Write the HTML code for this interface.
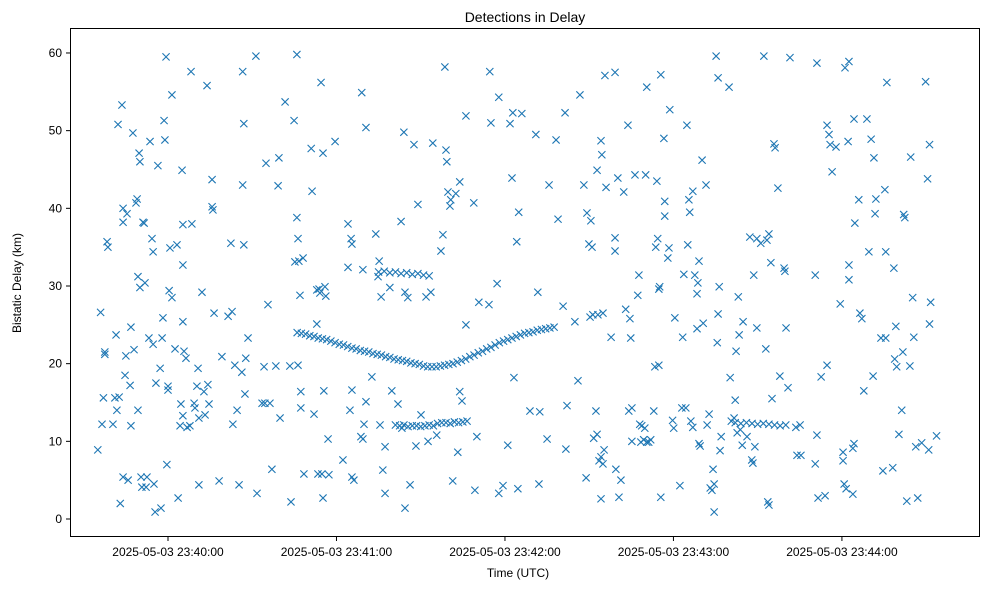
<!DOCTYPE html>
<html><head><meta charset="utf-8"><style>
body{margin:0;background:#fff;}
svg{font-family:"Liberation Sans","DejaVu Sans",sans-serif;}
</style></head><body>
<svg id="chart" width="989" height="590" viewBox="0 0 989 590">
<rect x="0" y="0" width="989" height="590" fill="#fff"/>
<text x="525" y="22" text-anchor="middle" font-size="14">Detections in Delay</text>
<text x="518" y="577" text-anchor="middle" font-size="12">Time (UTC)</text>
<text transform="translate(21,283) rotate(-90)" text-anchor="middle" font-size="12">Bistatic Delay (km)</text>
<g id="marks"></g>
<g id="axes"></g>
<rect x="70.5" y="28.5" width="909" height="508" fill="none" stroke="#000" stroke-width="1"/>
</svg>
<script>
const xTickValues=[0,60,120,180,240];
const xTickLabels=["2025-05-03 23:40:00","2025-05-03 23:41:00","2025-05-03 23:42:00","2025-05-03 23:43:00","2025-05-03 23:44:00"];
const yTickValues=[0,10,20,30,40,50,60];
const yTickLabels=["0","10","20","30","40","50","60"];
const noiseDetections=[[-25,8.9],[-24,26.6],[-23.5,12.2],[-23,15.6],[-22.5,21.5],[-22.5,21.2],[-21.7,35.7],[-21.4,35],[-19.6,12.2],[-18.9,15.6],[-18.5,23.7],[-18.2,14],[-17.8,50.8],[-17.4,15.7],[-17,2],[-16.4,53.3],[-16,38.2],[-16,40],[-16,5.4],[-15.3,18.5],[-15,21],[-14.6,39.3],[-14.2,5],[-13.5,17.2],[-13.2,24.7],[-13.2,12],[-12.5,49.7],[-12.1,21.8],[-11.4,40.7],[-11,41.2],[-10.7,31.2],[-10.7,14],[-10.3,47.1],[-10,46],[-10,29.8],[-9.6,5.4],[-9.3,4.1],[-8.9,38.2],[-8.5,38.1],[-8.2,30.4],[-7.8,4.1],[-7.5,5.4],[-6.8,23.3],[-6.4,48.6],[-5.7,36.1],[-5.3,22.5],[-5.3,34.4],[-5,4.5],[-4.6,0.9],[-4.3,17.5],[-3.6,45.5],[-2.8,19.4],[-2.5,1.4],[-2.1,23.3],[-1.8,25.9],[-1.4,51.3],[-1.1,48.8],[-0.7,59.5],[-0.4,7],[0,17.1],[0,16.6],[0.4,29.4],[0.7,34.9],[1.4,28.5],[1.4,54.6],[2.5,21.9],[3.2,35.3],[3.6,2.7],[4.3,12],[4.6,14.8],[5,44.9],[5.3,32.7],[5.3,25.4],[5.3,13.3],[5.3,37.9],[5.7,21.6],[6.4,20.7],[6.8,11.8],[7.8,12],[8.2,57.6],[8.5,38],[9.3,14.9],[9.6,14.3],[10.3,17.1],[10.7,19.4],[11,13],[11,4.4],[12.1,29.2],[12.8,16.4],[13.2,13.4],[13.9,55.8],[14.2,17.3],[14.6,14.8],[15.7,40.2],[15.7,43.7],[16,39.8],[16.4,26.5],[18.2,4.9],[19.2,20.9],[21.4,26.1],[22.4,35.5],[22.8,26.7],[23.1,12.2],[23.8,19.8],[24.6,14],[25.3,4.4],[26.3,18.9],[26.6,57.6],[26.6,43],[27,35.3],[27,50.9],[27.4,16.1],[27.7,20.7],[28.5,23.3],[31.3,59.6],[31.7,3.3],[33.5,14.9],[34.2,19.6],[34.5,14.9],[34.9,45.8],[35.6,27.6],[36.3,14.9],[37,6.4],[38.4,19.7],[39.2,42.9],[39.5,46.5],[39.9,13],[41.7,53.7],[43.4,19.7],[43.8,2.2],[44.9,51.3],[45.2,33.1],[45.9,59.8],[45.9,38.8],[46.3,36.1],[46.3,19.8],[46.6,33.2],[47,28.8],[47.3,16.4],[47.3,14.3],[48.1,33.6],[48.4,5.8],[51,47.7],[51.3,42.2],[52,13.5],[53,25.1],[53,29.5],[53.4,5.8],[53.8,29.6],[54.1,29.1],[54.5,56.2],[54.8,5.8],[55.2,2.7],[55.2,47.1],[55.5,16.5],[55.9,29.9],[56.2,28.7],[57,10.3],[57.3,5.7],[59.5,48.6],[62.3,7.6],[64.1,32.4],[64.1,38],[64.8,14],[65.2,36.1],[65.5,35.4],[65.5,16.6],[65.5,5.4],[66.2,5],[68.7,10.6],[69,54.9],[69.4,10.3],[69.4,32.1],[69.8,12.2],[70.5,50.4],[70.5,15.1],[72.6,18.3],[74,36.7],[74.8,31.2],[75.2,33.2],[75.5,12.1],[75.9,28.6],[76.5,6.3],[77.3,3.3],[77.3,9.3],[79,29.8],[79.7,16.5],[81.9,14.8],[83,38.3],[83.3,11.7],[84,49.8],[84.4,1.4],[84.4,29.2],[85.4,28.5],[86.2,4.4],[87.6,48.2],[88.3,9.4],[89,40.5],[90.1,13.4],[91.9,28.6],[92.6,10],[93.6,29.2],[94.3,48.4],[95.7,10.8],[97.2,34.5],[97.9,36.6],[98.6,58.2],[99,47.5],[99.3,46],[99.7,42.1],[100.4,40.3],[100.7,41.1],[101.4,4.9],[102.5,41.9],[103.2,8.6],[103.9,43.4],[103.9,16.4],[104.7,15.2],[106.1,25],[106.1,51.9],[108.9,40.7],[109.3,3.7],[110,10.6],[110.7,27.9],[114.3,27.6],[114.6,57.6],[115,51],[117.2,30.3],[117.8,54.3],[117.8,3.3],[119.3,4.3],[121,9.5],[121.8,50.9],[122.5,43.9],[122.8,52.3],[123.2,18.2],[124.2,35.7],[124.6,3.9],[124.9,39.5],[126,52.2],[128.9,13.9],[131,49.5],[131.7,29.2],[132.1,4.5],[132.4,13.8],[135,10.3],[135.7,43],[138.2,48.8],[138.9,38.6],[140.7,27.4],[141.4,52.3],[141.7,9],[142.1,14.6],[144.9,25.4],[146,17.8],[146.7,54.6],[148.1,43],[148.9,5.3],[149.2,39.4],[149.9,35.4],[150.3,26],[150.6,38.4],[151,35],[151.3,26.3],[151.6,10.4],[152.4,13.9],[152.8,44.9],[152.8,10.9],[153.1,26.3],[153.5,7.5],[154.2,48.7],[154.2,8],[154.2,2.6],[154.5,46.9],[154.9,26.5],[154.9,7.1],[155.3,8.9],[155.6,57.1],[156,42.7],[157.8,23.4],[159.2,57.5],[159.2,36.2],[159.2,34.5],[159.5,6.4],[160.2,43.9],[160.6,2.8],[161.3,5],[162.3,42.1],[163,27],[163.8,50.7],[164.1,13.9],[164.5,25.8],[164.8,23.3],[165.2,14.3],[165.2,10],[166.3,44.3],[167.3,28.8],[167.7,31.4],[168,12.2],[168.4,9.9],[168.7,12],[169.4,10.2],[169.8,11.7],[170.1,44.3],[170.5,55.6],[170.5,9.9],[171.2,9.9],[171.9,10.2],[173,13.9],[173.4,19.6],[173.7,35],[174.1,43.5],[174.4,36.1],[174.8,19.8],[174.8,29.6],[175.1,29.9],[175.5,57.2],[175.5,2.8],[176.6,49],[176.9,40.9],[176.9,39],[178,33.6],[178.4,34.9],[178.7,52.7],[179.7,12.7],[180.1,11.7],[180.5,25.9],[182.3,4.3],[183,14.3],[183.3,23.4],[183.7,31.5],[184.4,14.3],[184.8,50.7],[185.1,35.3],[185.5,41.1],[185.8,39.5],[186.2,12.6],[186.9,11.8],[186.9,42.2],[187.6,31.4],[188.4,24.5],[188.4,29],[188.7,30.4],[189.1,33.2],[189.1,9.7],[189.5,9.4],[190.2,46.2],[190.6,25.2],[191.6,43],[192,12.1],[192.7,13.5],[193.1,4],[193.7,3.7],[194.1,6.4],[194.5,4.5],[194.5,0.9],[195.2,59.6],[195.6,22.7],[195.9,56.8],[195.9,26.4],[196.3,29.9],[196.6,8.8],[197,10.6],[199.8,55.6],[200.2,18.2],[200.6,12.6],[201.6,13],[202,15.3],[202.3,21.6],[202.7,11.1],[203.1,28.6],[203.4,23.7],[203.8,11.5],[204.5,9.5],[204.8,25.4],[206.2,10.6],[207.2,36.3],[207.9,7.6],[208.3,7.2],[208.6,31.4],[209,9.3],[209.7,36.1],[209.7,24.6],[211.1,35.5],[212.2,59.6],[212.9,21.9],[213.3,35.9],[213.6,2.2],[214,1.8],[214,36.7],[214.7,33],[215.1,15.5],[215.8,48.3],[216.2,47.8],[217.2,42.6],[217.9,18.4],[219.4,32.3],[219.7,31.9],[220.1,24.6],[220.8,16.9],[221.5,59.4],[223.6,11.8],[224,8.2],[225.4,8.2],[225.1,12.1],[230.5,7.1],[230.5,31.4],[231.1,58.7],[231.1,10.8],[231.5,2.7],[232.6,18.3],[234,3],[234.7,19.8],[234.7,50.7],[235.4,49.5],[235.8,48.2],[236.5,44.7],[237.9,47.9],[239.4,27.7],[240.4,8.6],[240.4,7.5],[240.8,4.5],[241.1,58.1],[241.5,3.9],[242.2,48.6],[242.5,58.9],[242.5,32.7],[242.5,30.8],[243.9,9.1],[243.9,3.2],[244.3,9.7],[244.3,51.5],[244.6,38.1],[246,41.1],[246.4,26.5],[247.1,25.8],[247.8,16.5],[248.9,51.5],[249.6,34.4],[250.4,48.9],[251.1,18.4],[251.4,46.5],[251.8,39.3],[252.1,41.2],[253.9,23.3],[254.6,6.2],[255.3,42.4],[255.6,34.4],[256,56.2],[255.6,23.3],[258.1,6.6],[258.5,32.3],[258.8,20.6],[259.2,24.8],[259.5,19.6],[260.3,10.9],[261.3,14],[261.7,21.5],[262,39.2],[262.4,38.8],[263.1,2.3],[264.2,19.7],[264.5,46.6],[265.2,28.5],[265.6,23.4],[266.3,9.3],[267,2.7],[268.4,9.8],[269.8,56.3],[270.5,43.8],[270.9,8.9],[271.2,25.1],[271.2,48.2],[271.6,27.9],[273.7,10.7]];
const curvedTrack=[[46,24.0],[47.5,23.9],[49,23.8],[50.5,23.6],[52,23.5],[53.5,23.3],[55,23.2],[56.5,23.1],[58,22.9],[59.5,22.7],[61,22.5],[62.5,22.4],[64,22.2],[65.5,22.0],[67,21.9],[68.5,21.7],[70,21.6],[71.5,21.5],[73,21.3],[74.5,21.2],[76,21.1],[77.5,20.9],[79,20.8],[80.5,20.6],[82,20.5],[83.5,20.4],[85,20.3],[86.5,20.1],[88,20.0],[89.5,19.9],[91,19.7],[92.5,19.6],[94,19.6],[95.5,19.6],[97,19.7],[98.5,19.8],[100,19.9],[101.5,20.0],[103,20.2],[104.5,20.4],[106,20.6],[107.5,20.9],[109,21.1],[110.5,21.4],[112,21.6],[113.5,21.9],[115,22.1],[116.5,22.4],[118,22.7],[119.5,22.9],[121,23.1],[122.5,23.3],[124,23.5],[125.5,23.7],[127,23.9],[128.5,24.0],[130,24.1],[131.5,24.3],[133,24.4],[134.5,24.5],[136,24.6],[137.5,24.7]];
const band31Track=[[75,31.8],[77,31.9],[79,31.7],[81,31.8],[83,31.6],[85,31.7],[87,31.5],[89,31.6],[91,31.4],[93,31.3]];
const band12Track=[[81,12.1],[82.5,12.0],[84,12.1],[85.5,11.9],[87,12.0],[88.5,12.0],[90,11.9],[91.5,12.0],[93,12.1],[94.5,12.0],[96,12.3],[97.5,12.4],[99,12.4],[100.5,12.3],[102,12.5],[103.5,12.4],[105,12.5],[106.5,12.6]];
const band12RightTrack=[[202,12.4],[204,12.3],[206,12.4],[208,12.3],[210,12.2],[212,12.3],[214,12.2],[216,12.1],[218,12.0],[220,12.1]];

const NS='http://www.w3.org/2000/svg';
function xScale(t){return 168+t*2.808;}
function yScale(d){return 519-d*7.767;}
const marks=document.getElementById('marks');
const axes=document.getElementById('axes');
function drawSet(arr,name){
  arr.forEach(p=>{
    const x=xScale(p[0]),y=yScale(p[1]),s=3.6;
    const path=document.createElementNS(NS,'path');
    path.setAttribute('d',`M${x-s},${y-s}L${x+s},${y+s}M${x-s},${y+s}L${x+s},${y-s}`);
    path.setAttribute('stroke','#1f77b4');
    path.setAttribute('stroke-width','1.1');
    path.setAttribute('fill','none');
    
    
    marks.appendChild(path);
  });
}
drawSet(noiseDetections,'detection-marker');
drawSet(curvedTrack,'track-marker');
drawSet(band31Track,'track-marker');
drawSet(band12Track,'track-marker');
drawSet(band12RightTrack,'track-marker');
xTickValues.forEach((v,i)=>{
  const x=xScale(v);
  const l=document.createElementNS(NS,'line');
  l.setAttribute('x1',x);l.setAttribute('x2',x);l.setAttribute('y1',537);l.setAttribute('y2',541);
  l.setAttribute('stroke','#000');
  
  
  axes.appendChild(l);
  const t=document.createElementNS(NS,'text');
  t.setAttribute('x',x);t.setAttribute('y',556);t.setAttribute('text-anchor','middle');t.setAttribute('font-size','12');
  t.textContent=xTickLabels[i];
  
  
  axes.appendChild(t);
});
yTickValues.forEach((v,i)=>{
  const y=yScale(v);
  const l=document.createElementNS(NS,'line');
  l.setAttribute('x1',66);l.setAttribute('x2',70);l.setAttribute('y1',y);l.setAttribute('y2',y);
  l.setAttribute('stroke','#000');
  
  
  axes.appendChild(l);
  const t=document.createElementNS(NS,'text');
  t.setAttribute('x',62);t.setAttribute('y',y+4);t.setAttribute('text-anchor','end');t.setAttribute('font-size','12');
  t.textContent=yTickLabels[i];
  
  
  axes.appendChild(t);
});
</script>
</body></html>
